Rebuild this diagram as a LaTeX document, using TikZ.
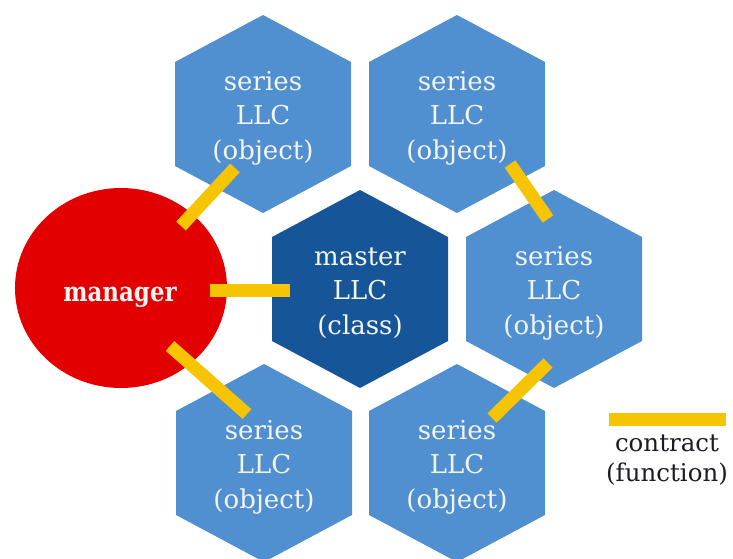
\documentclass[tikz,border=0pt]{standalone}
\usepackage{fontspec}
\setmainfont{DejaVu Serif}
\usetikzlibrary{shapes.geometric,calc}

\definecolor{cellblue}{RGB}{80,144,208}
\definecolor{classblue}{RGB}{22,86,152}
\definecolor{mgrred}{RGB}{226,0,0}
\definecolor{contractgold}{RGB}{246,196,0}
\definecolor{labelwhite}{RGB}{244,244,244}
\definecolor{legendtext}{RGB}{28,28,40}

% pointy-topped hexagon centred on a named coordinate
\newcommand\hexcell[2]{%
  \fill[#2, shift={(#1)}] (0,-99) -- (88,-52) -- (88,52) -- (0,99)
    -- (-88,52) -- (-88,-52) -- cycle;}

\tikzset{
  celltext/.style={text=labelwhite, align=center, inner sep=0pt,
    font=\fontsize{26}{34.5}\selectfont},
  contract/.style={draw=contractgold, line width=13pt, line cap=butt},
}

\begin{document}
\begin{tikzpicture}[x=1pt, y=-1pt]
  \useasboundingbox (0,0) rectangle (733,559);
  \clip (0,0) rectangle (733,559);

  % cell centres
  \coordinate (tl) at (263,114);
  \coordinate (tr) at (457,114);
  \coordinate (ms) at (360,289);
  \coordinate (mr) at (554,289);
  \coordinate (bl) at (264,463);
  \coordinate (br) at (457,463);

  \hexcell{tl}{cellblue}
  \hexcell{tr}{cellblue}
  \hexcell{ms}{classblue}
  \hexcell{mr}{cellblue}
  \hexcell{bl}{cellblue}
  \hexcell{br}{cellblue}

  \node[celltext] (tlt) at ($(tl)+(0,4)$) {series\\LLC\\(object)};
  \node[celltext] (trt) at ($(tr)+(0,4)$) {series\\LLC\\(object)};
  \node[celltext] (mst) at ($(ms)+(0,4)$) {master\\LLC\\(class)};
  \node[celltext] (mrt) at ($(mr)+(0,4)$) {series\\LLC\\(object)};
  \node[celltext] (blt) at ($(bl)+(0,4)$) {series\\LLC\\(object)};
  \node[celltext] (brt) at ($(br)+(0,4)$) {series\\LLC\\(object)};

  % manager
  \node[ellipse, fill=mgrred, minimum width=212pt, minimum height=200pt,
        inner sep=0pt] (mgr) at (121,288) {};
  \node[text=labelwhite, inner sep=0pt, anchor=base,
        font=\fontsize{27}{30}\selectfont\bfseries] (mgrt) at (120,301)
        {\scalebox{0.85}[1]{manager}};

  % contract end points
  \coordinate (k1a) at (181,226); \coordinate (k1b) at (235,168);
  \coordinate (k2a) at (210,290); \coordinate (k2b) at (290,290);
  \coordinate (k3a) at (170,346); \coordinate (k3b) at (247,414);
  \coordinate (k4a) at (510,164); \coordinate (k4b) at (548,219);
  \coordinate (k5a) at (548,363); \coordinate (k5b) at (492,418);

  \draw[contract] (k1a) -- (k1b);
  \draw[contract] (k2a) -- (k2b);
  \draw[contract] (k3a) -- (k3b);
  \draw[contract] (k4a) -- (k4b);
  \draw[contract] (k5a) -- (k5b);

  % legend
  \coordinate (lga) at (609,419);
  \coordinate (lgb) at (726,419);
  \draw[contract] (lga) -- (lgb);
  \node[text=legendtext, align=center, inner sep=0pt,
        font=\fontsize{24.5}{30}\selectfont] (lgt) at (667,460) {contract\\(function)};
\end{tikzpicture}
\end{document}
